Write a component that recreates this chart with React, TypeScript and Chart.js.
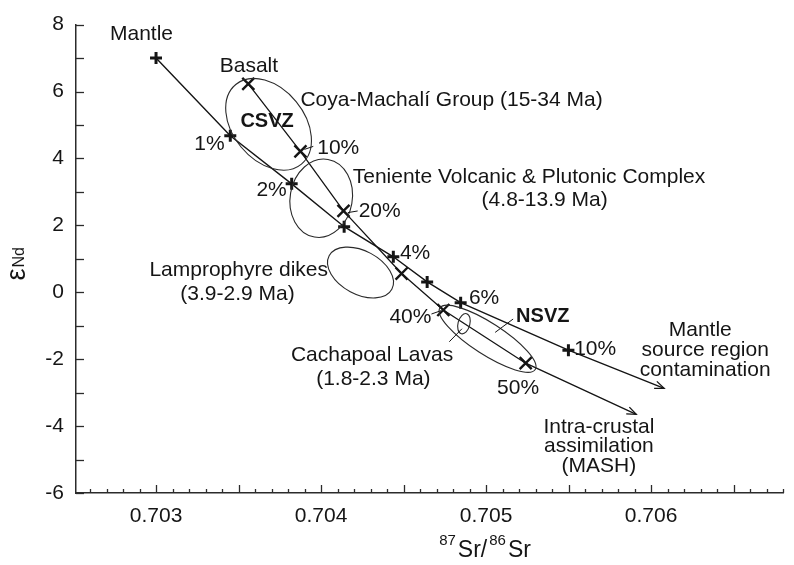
import React, { useEffect, useRef } from "react";
import { Chart, registerables } from "chart.js";

Chart.register(...registerables);

const FONT = "'Liberation Sans', Arial, Helvetica, sans-serif";

// Mantle source region contamination curve (+ markers); last point = arrow tip
const mantleX = [0.703, 0.70345, 0.703822, 0.70414, 0.704438, 0.704643, 0.704846, 0.705499, 0.706079];
const mantleY = [7.0, 4.68, 3.24, 1.96, 1.06, 0.31, -0.31, -1.73, -2.87];

// Intra-crustal assimilation (MASH) curve (X markers); last point = arrow tip
const mashX = [0.703559, 0.703875, 0.704136, 0.704488, 0.704741, 0.70524, 0.70591];
const mashY = [6.23, 4.21, 2.43, 0.56, -0.53, -2.12, -3.65];

// Axis ticks
const xTickLabels = [0.703, 0.704, 0.705, 0.706];
const yTickLabels = [-6, -4, -2, 0, 2, 4, 6, 8];

// Compositional fields (ellipses): centre, end of major axis, end of minor axis (data units)
const fieldNames = ["Coya-Machalí", "Teniente", "Lamprophyre", "NSVZ", "Cachapoal"];
const fieldCenterX = [0.703682, 0.704001, 0.704239, 0.705009, 0.704866];
const fieldCenterY = [5.02, 2.81, 0.59, -1.39, -0.94];
const fieldMajorX = [0.703881, 0.70396, 0.704429, 0.705298, 0.70485];
const fieldMajorY = [3.83, 1.65, 0.09, -2.31, -1.24];
const fieldMinorX = [0.703517, 0.703816, 0.704178, 0.704958, 0.704831];
const fieldMinorY = [4.33, 2.98, 0.015, -1.79, -0.9];

// Text labels (anchored in data units)
const labelText = [
  "Mantle", "Basalt", "Coya-Machalí Group (15-34 Ma)", "CSVZ", "1%", "10%", "2%",
  "Teniente Volcanic & Plutonic Complex", "(4.8-13.9 Ma)", "20%", "4%",
  "Lamprophyre dikes", "(3.9-2.9 Ma)", "6%", "40%", "NSVZ", "10%",
  "Cachapoal Lavas", "(1.8-2.3 Ma)", "50%", "Mantle", "source region", "contamination",
  "Intra-crustal", "assimilation", "(MASH)",
];
const labelX = [
  0.702912, 0.703563, 0.703875, 0.703673, 0.703416, 0.703977, 0.703792,
  0.704192, 0.705355, 0.704228, 0.704478,
  0.703501, 0.703494, 0.704896, 0.704669, 0.705182, 0.705534,
  0.704309, 0.704317, 0.705194, 0.706298, 0.706328, 0.706328,
  0.705684, 0.705684, 0.705684,
];
const labelY = [
  7.7, 6.75, 5.75, 5.1, 4.44, 4.32, 3.05,
  3.45, 2.75, 2.43, 1.18,
  0.66, -0.06, -0.17, -0.75, -0.73, -1.7,
  -1.87, -2.59, -2.86, -1.12, -1.73, -2.34,
  -4.03, -4.61, -5.19,
];
const labelAlign = [
  "center", "center", "left", "center", "right", "left", "right",
  "left", "center", "left", "left",
  "center", "center", "left", "right", "left", "left",
  "center", "center", "center", "center", "center", "center",
  "center", "center", "center",
];
const labelBold = [
  false, false, false, true, false, false, false,
  false, false, false, false,
  false, false, false, false, true, false,
  false, false, false, false, false, false,
  false, false, false,
];

// Leader lines
const leaderX1 = [0.703899, 0.704162, 0.704669, 0.705055, 0.704777];
const leaderY1 = [4.27, 2.38, -0.65, -1.2, -1.48];
const leaderX2 = [0.703953, 0.704222, 0.704727, 0.705164, 0.704854];
const leaderY2 = [4.36, 2.43, -0.55, -0.8, -1.09];

const INK = "#151515";

const overlayPlugin = {
  id: "overlay",
  afterDatasetsDraw(chart: any) {
    const { ctx } = chart;
    const xs = chart.scales.x;
    const ys = chart.scales.y;
    const px = (v: number) => xs.getPixelForValue(v);
    const py = (v: number) => ys.getPixelForValue(v);
    ctx.save();

    // ellipses
    ctx.strokeStyle = "#2a2a2a";
    ctx.lineWidth = 1.1;
    for (let i = 0; i < fieldNames.length; i++) {
      const cx = px(fieldCenterX[i]);
      const cy = py(fieldCenterY[i]);
      const mx = px(fieldMajorX[i]) - cx;
      const my = py(fieldMajorY[i]) - cy;
      const nx = px(fieldMinorX[i]) - cx;
      const ny = py(fieldMinorY[i]) - cy;
      const a = Math.hypot(mx, my);
      const b = Math.hypot(nx, ny);
      const ang = Math.atan2(my, mx);
      ctx.beginPath();
      ctx.ellipse(cx, cy, a, b, ang, 0, Math.PI * 2);
      ctx.stroke();
    }

    // leader lines
    ctx.strokeStyle = INK;
    ctx.lineWidth = 1;
    for (let i = 0; i < leaderX1.length; i++) {
      ctx.beginPath();
      ctx.moveTo(px(leaderX1[i]), py(leaderY1[i]));
      ctx.lineTo(px(leaderX2[i]), py(leaderY2[i]));
      ctx.stroke();
    }

    // arrowheads at the end of each curve
    ctx.lineWidth = 1.3;
    chart.data.datasets.forEach((ds: any) => {
      const n = ds.data.length;
      const p1 = ds.data[n - 2];
      const p2 = ds.data[n - 1];
      const x1 = px(p1.x), y1 = py(p1.y), x2 = px(p2.x), y2 = py(p2.y);
      const ang = Math.atan2(y2 - y1, x2 - x1);
      const len = 10;
      const spread = 0.38;
      ctx.beginPath();
      ctx.moveTo(x2 - len * Math.cos(ang - spread), y2 - len * Math.sin(ang - spread));
      ctx.lineTo(x2, y2);
      ctx.lineTo(x2 - len * Math.cos(ang + spread), y2 - len * Math.sin(ang + spread));
      ctx.stroke();
    });

    // labels
    ctx.fillStyle = INK;
    ctx.textBaseline = "middle";
    for (let i = 0; i < labelText.length; i++) {
      ctx.font = (labelBold[i] ? "bold 20px " : "21px ") + FONT;
      ctx.textAlign = labelAlign[i];
      ctx.fillText(labelText[i], px(labelX[i]), py(labelY[i]));
    }
    ctx.restore();
  },
  afterDraw(chart: any) {
    const { ctx, chartArea } = chart;
    const xs = chart.scales.x;
    const ys = chart.scales.y;
    ctx.save();
    ctx.strokeStyle = "#2b2b2b";
    ctx.lineWidth = 1.3;
    // y ticks (inside), every unit
    for (let v = -6; v <= 8; v += 1) {
      const yy = Math.round(ys.getPixelForValue(v)) + 0.5;
      ctx.beginPath();
      ctx.moveTo(chartArea.left, yy);
      ctx.lineTo(chartArea.left + 8, yy);
      ctx.stroke();
    }
    // x ticks (inside): major every 0.0005, minor every 0.0001
    for (let k = 7026; k <= 7068; k++) {
      const v = k / 10000;
      const xx = Math.round(xs.getPixelForValue(v)) + 0.5;
      const major = k % 5 === 0;
      ctx.beginPath();
      ctx.moveTo(xx, chartArea.bottom);
      ctx.lineTo(xx, chartArea.bottom - (major ? 8 : 4));
      ctx.stroke();
    }

    // x axis title: 87Sr/86Sr
    ctx.fillStyle = INK;
    ctx.textBaseline = "alphabetic";
    ctx.textAlign = "left";
    const big = "23px " + FONT;
    const small = "15px " + FONT;
    const parts: [string, string, number][] = [
      ["87", small, -12],
      ["Sr/", big, 0],
      ["86", small, -12],
      ["Sr", big, 0],
    ];
    let total = 0;
    const widths: number[] = [];
    parts.forEach(([t, f]) => {
      ctx.font = f;
      const w = ctx.measureText(t).width + 2;
      widths.push(w);
      total += w;
    });
    let cx = xs.getPixelForValue(0.705) - total / 2;
    const base = chartArea.bottom + 64;
    parts.forEach(([t, f, dy], i) => {
      ctx.font = f;
      ctx.fillText(t, cx, base + dy);
      cx += widths[i];
    });

    // y axis title: εNd (rotated)
    ctx.save();
    ctx.translate(chartArea.left - 51, ys.getPixelForValue(0.35));
    ctx.rotate(-Math.PI / 2);
    ctx.font = "27px " + FONT;
    ctx.fillText("ε", 0, 0);
    const ew = ctx.measureText("ε").width;
    ctx.font = "16px " + FONT;
    ctx.fillText("Nd", ew + 1, -1);
    ctx.restore();

    ctx.restore();
  },
};

export default function App() {
  const canvasRef = useRef<HTMLCanvasElement | null>(null);

  useEffect(() => {
    if (!canvasRef.current) return;
    const mantleData = mantleX.map((x, i) => ({ x, y: mantleY[i] }));
    const mashData = mashX.map((x, i) => ({ x, y: mashY[i] }));

    const chart = new Chart(canvasRef.current, {
      type: "scatter",
      data: {
        datasets: [
          {
            label: "Mantle source region contamination",
            data: mantleData,
            showLine: true,
            borderColor: INK,
            borderWidth: 1.4,
            tension: 0,
            pointStyle: "cross",
            pointRadius: (c: any) => (c.dataIndex === mantleData.length - 1 ? 0 : 6),
            pointBorderWidth: 3,
            pointBorderColor: INK,
            pointBackgroundColor: INK,
          },
          {
            label: "Intra-crustal assimilation (MASH)",
            data: mashData,
            showLine: true,
            borderColor: INK,
            borderWidth: 1.3,
            tension: 0,
            pointStyle: "crossRot",
            pointRadius: (c: any) => (c.dataIndex === mashData.length - 1 ? 0 : 8.5),
            pointBorderWidth: 2.4,
            pointBorderColor: INK,
            pointBackgroundColor: INK,
          },
        ],
      },
      options: {
        responsive: false,
        animation: false,
        devicePixelRatio: 1,
        layout: { padding: { top: 23, left: 0, right: 0, bottom: 0 } },
        plugins: {
          legend: { display: false },
          tooltip: { enabled: false },
        },
        events: [],
        scales: {
          x: {
            type: "linear",
            min: 0.702515,
            max: 0.7068,
            afterBuildTicks: (s: any) => {
              s.ticks = xTickLabels.map((v) => ({ value: v }));
            },
            afterFit: (s: any) => {
              s.height = 72;
            },
            grid: { display: false, drawTicks: false },
            border: { display: true, color: "#2b2b2b", width: 1.5 },
            ticks: {
              color: INK,
              font: { family: FONT, size: 21 },
              padding: 11,
              maxRotation: 0,
              autoSkip: false,
              callback: (v: any) => Number(v).toFixed(3),
            },
          },
          y: {
            type: "linear",
            min: -6,
            max: 8,
            afterBuildTicks: (s: any) => {
              s.ticks = yTickLabels.map((v) => ({ value: v }));
            },
            afterFit: (s: any) => {
              s.width = 76;
            },
            grid: { display: false, drawTicks: false },
            border: { display: true, color: "#2b2b2b", width: 1.5 },
            ticks: {
              color: INK,
              font: { family: FONT, size: 21 },
              padding: 12,
              autoSkip: false,
              callback: (v: any) => String(v),
            },
          },
        },
      },
      plugins: [overlayPlugin],
    } as any);

    return () => chart.destroy();
  }, []);

  return (
    <div
      style={{
        position: "fixed",
        left: 0,
        top: 0,
        width: 794,
        height: 565,
        background: "#ffffff",
      }}
    >
      <canvas ref={canvasRef} width={794} height={565} style={{ width: 794, height: 565, display: "block" }} />
    </div>
  );
}
